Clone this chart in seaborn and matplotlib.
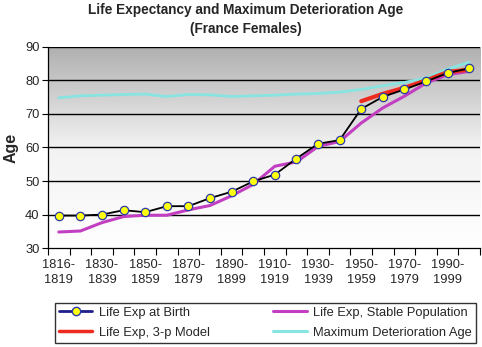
import numpy as np
import pandas as pd
import seaborn as sns
import matplotlib.pyplot as plt
from matplotlib.lines import Line2D

# Data
periods = ["1816-1819", "1820-1829", "1830-1839", "1840-1849", "1850-1859",
           "1860-1869", "1870-1879", "1880-1889", "1890-1899", "1900-1909",
           "1910-1919", "1920-1929", "1930-1939", "1940-1949", "1950-1959",
           "1960-1969", "1970-1979", "1980-1989", "1990-1999", "2000-2005"]
life_exp_birth = [39.7, 39.7, 40.0, 41.3, 40.7, 42.5, 42.5, 44.9, 46.8, 49.9,
                  51.9, 56.7, 61.1, 62.2, 71.5, 75.1, 77.3, 79.7, 82.2, 83.6]
life_exp_stable = [34.8, 35.1, 37.6, 39.4, 39.8, 39.8, 41.4, 42.7, 45.6, 49.0,
                   54.4, 55.7, 60.3, 61.8, 67.3, 71.8, 75.3, 79.2, 81.7, 82.7]
life_exp_3p = [None] * 14 + [73.8, 76.0, 77.8, 80.0, 82.5, 83.2]
max_det_age = [74.8, 75.4, 75.6, 75.8, 75.9, 75.2, 75.8, 75.7, 75.2, 75.4,
               75.6, 75.9, 76.1, 76.5, 77.3, 78.4, 79.4, 80.7, 83.4, 85.4]

df = pd.DataFrame({"pos": np.arange(len(periods)),
                   "birth": life_exp_birth,
                   "stable": life_exp_stable,
                   "model": [np.nan if v is None else v for v in life_exp_3p],
                   "maxdet": max_det_age})

sns.set_theme(style="white")
plt.rcParams["font.family"] = ["Liberation Sans", "DejaVu Sans"]

fig = plt.figure(figsize=(4.82, 3.47), dpi=100)
ax = fig.add_axes([0.0996, 0.285, 0.8964, 0.58])

# gray-to-white background gradient
bg_cmap = plt.matplotlib.colors.LinearSegmentedColormap.from_list(
    "bg", ["#ffffff", "#f2f2f2", "#b0b0b0"])
grad = np.linspace(0, 1, 256).reshape(-1, 1)
ax.imshow(grad, aspect="auto", cmap=bg_cmap, origin="lower",
          extent=[-0.5, 19.5, 30, 90], zorder=0)

for yv in range(40, 100, 10):
    ax.axhline(yv, color="black", linewidth=1.0, zorder=1)

sns.lineplot(data=df, x="pos", y="maxdet", color="#88e4e0", linewidth=2.0, ax=ax, zorder=2)
sns.lineplot(data=df, x="pos", y="stable", color="#c23fc2", linewidth=2.2, ax=ax, zorder=3)
sns.lineplot(data=df.dropna(subset=["model"]), x="pos", y="model",
             color="#ee2a1e", linewidth=3.0, ax=ax, zorder=4)
ax.plot(df["pos"], df["birth"], color="black", linewidth=1.3, marker="o",
        markersize=6, markerfacecolor="#ffff10", markeredgecolor="#2b3aa8",
        markeredgewidth=0.9, zorder=5)

ax.set_xlim(-0.5, 19.5)
ax.set_ylim(30, 90)
ax.set_yticks(range(30, 100, 10))
ax.set_xticks(np.arange(-0.5, 20, 1))
ax.set_xticklabels([])
ax.set_xticks(np.arange(0, 19, 2), minor=True)
ax.set_xticklabels([p.replace("-", "-\n") for p in periods[0:19:2]], minor=True,
                   linespacing=1.35)
ax.tick_params(axis="x", which="major", direction="out", length=5, width=0.8,
               color="black", bottom=True)
ax.tick_params(axis="x", which="minor", length=0, labelsize=9.3, pad=8)
ax.tick_params(axis="y", direction="out", length=4, width=0.8, color="black",
               left=True, labelsize=9.3, pad=2)
for side in ("top", "right"):
    ax.spines[side].set_visible(False)
for side in ("left", "bottom"):
    ax.spines[side].set_color("black")
    ax.spines[side].set_linewidth(0.9)
ax.set_xlabel("")
ax.set_ylabel("Age", fontsize=11.5, fontweight="bold", labelpad=5)

fig.text(0.51, 0.992, "Life Expectancy and Maximum Deterioration Age\n(France Females)",
         ha="center", va="top", fontsize=9.8, fontweight="bold", linespacing=1.45)

handles = [
    Line2D([], [], color="#1f1f8a", linewidth=2, marker="o", markersize=6,
           markerfacecolor="#ffff10", markeredgecolor="#2b3aa8"),
    Line2D([], [], color="#ee2a1e", linewidth=2.5),
    Line2D([], [], color="#c23fc2", linewidth=2.2),
    Line2D([], [], color="#88e4e0", linewidth=2.2),
]
labels = ["Life Exp at Birth", "Life Exp, 3-p Model",
          "Life Exp, Stable Population", "Maximum Deterioration Age"]
leg = fig.legend(handles, labels, loc="upper left", ncol=2,
                 bbox_to_anchor=(0.114, 0.0, 0.873, 0.127), mode="expand",
                 borderaxespad=0, frameon=True, fancybox=False, fontsize=9.3,
                 handlelength=2.6, handletextpad=0.5, borderpad=0.3,
                 labelspacing=0.62, columnspacing=1.0)
leg.get_frame().set_edgecolor("black")
leg.get_frame().set_linewidth(1.0)

fig.savefig("out.png", dpi=100)
